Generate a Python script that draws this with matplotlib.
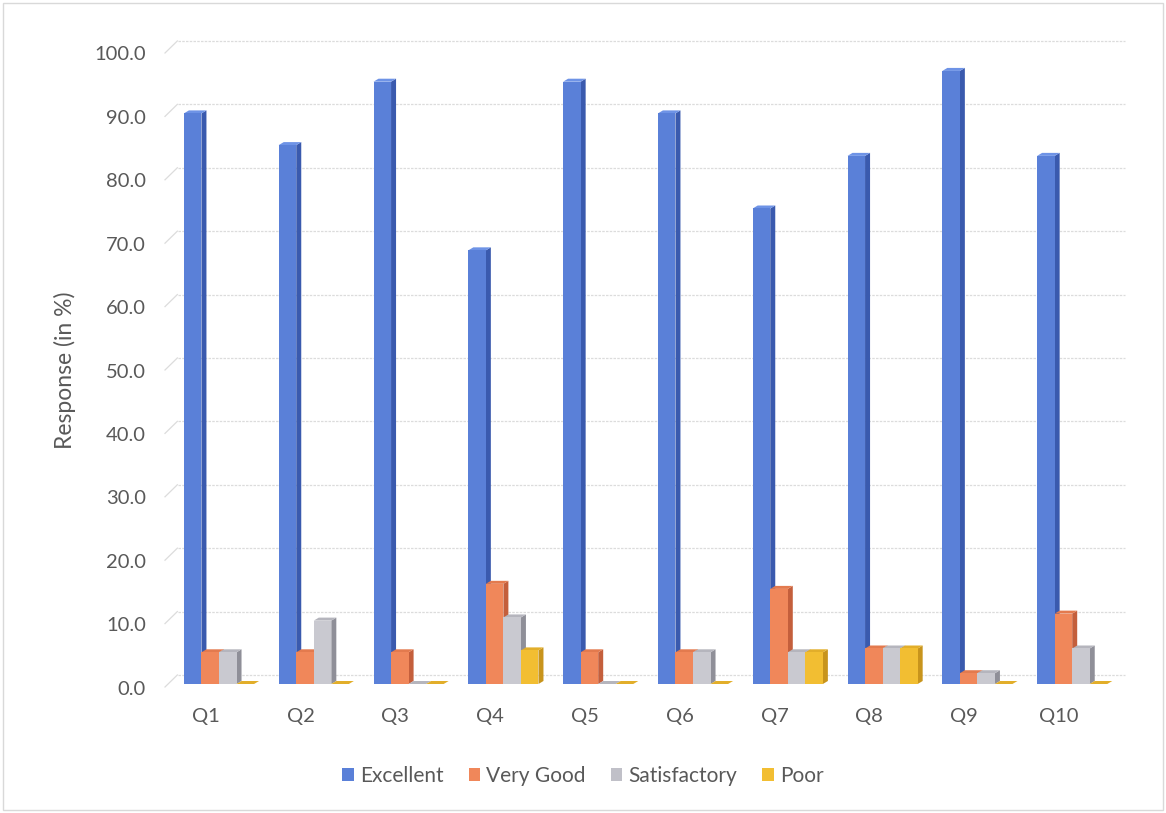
import matplotlib
matplotlib.use("Agg")
import matplotlib.pyplot as plt
import numpy as np
from matplotlib.patches import Polygon, Rectangle
from matplotlib.transforms import ScaledTranslation

categories = ["Q1", "Q2", "Q3", "Q4", "Q5", "Q6", "Q7", "Q8", "Q9", "Q10"]
excellent = [90.0, 85.0, 95.0, 68.4, 95.0, 90.0, 75.0, 83.3, 96.7, 83.3]
very_good = [5.0, 5.0, 5.0, 15.8, 5.0, 5.0, 15.0, 5.6, 1.7, 11.1]
satisfactory = [5.0, 10.0, 0.0, 10.5, 0.0, 5.0, 5.0, 5.6, 1.7, 5.6]
poor = [0.0, 0.0, 0.0, 5.3, 0.0, 0.0, 5.0, 5.6, 0.0, 0.0]
series_names = ["Excellent", "Very Good", "Satisfactory", "Poor"]
yticks = [0, 10, 20, 30, 40, 50, 60, 70, 80, 90, 100]

series = [excellent, very_good, satisfactory, poor]
front_cols = ["#5A80D8", "#F0875A", "#C9C9D0", "#F2BE32"]
side_cols = ["#3A5AAE", "#C45F3C", "#8F8F98", "#C8941C"]
top_cols = ["#6E93E6", "#E37A4E", "#B5B5BD", "#E2AE2A"]
legend_cols = ["#5A80D8", "#F0875A", "#C0C0C8", "#F2BE32"]

plt.rcParams['font.family'] = ['Lato', 'DejaVu Sans']
txt = "#595959"

W, H = 1166, 813
fig = plt.figure(figsize=(W / 100, H / 100), dpi=100)
fig.patch.set_facecolor("white")
fig.add_artist(Rectangle((3 / W, 3 / H), 1 - 6 / W, 1 - 6 / H, transform=fig.transFigure,
                         fill=False, edgecolor="#D9D9D9", lw=1.0))

L, R, B, T = 175, 1125, 684, 50
ax = fig.add_axes([L / W, 1 - B / H, (R - L) / W, (B - T) / H])
ax.set_xlim(-0.464, 9.557)
ax.set_ylim(0, 100)
for s in ax.spines.values():
    s.set_visible(False)

# back-wall gridlines (offset up) + left side wall slants
dy_grid = 9 / 100
for t in yticks:
    off = ScaledTranslation(0, dy_grid, fig.dpi_scale_trans)
    ax.plot([0.003, 1.0], [t, t], transform=ax.get_yaxis_transform() + off,
            color="#DCDCDC", lw=0.9, ls=(0, (2, 1)), zorder=0, clip_on=False)
    side = ScaledTranslation(-10 / 100, -3 / 100, fig.dpi_scale_trans)
    ax.plot([0.0, 0.013], [t, t + 1.9], transform=ax.get_yaxis_transform() + side,
            color="#DCDCDC", lw=0.9, zorder=0, clip_on=False)

# bars with faux 3D depth
x = np.arange(len(categories))
w = 0.185
inv = ax.transData.inverted()
p0 = inv.transform(ax.transData.transform((0, 0)))
p1 = inv.transform(ax.transData.transform((0, 0)) + np.array([5, 3]))
ddx, ddy = p1 - p0

for k, (vals, fc, sc, tc) in enumerate(zip(series, front_cols, side_cols, top_cols)):
    lefts = x - 2 * w + k * w
    for xl, v in zip(lefts, vals):
        side_poly = Polygon([(xl + w, 0), (xl + w + ddx, ddy), (xl + w + ddx, v + ddy), (xl + w, v)],
                            closed=True, facecolor=sc, edgecolor="none", zorder=2 + k)
        top_poly = Polygon([(xl, v), (xl + ddx, v + ddy), (xl + w + ddx, v + ddy), (xl + w, v)],
                           closed=True, facecolor=tc, edgecolor="none", zorder=2 + k)
        ax.add_patch(side_poly)
        ax.add_patch(top_poly)
    ax.bar(lefts, vals, width=w, align="edge", color=fc, edgecolor="none", zorder=2 + k,
           label=series_names[k])

ax.set_xticks(x - 0.14)
ax.set_xticklabels(categories)
ax.set_yticks(yticks)
ax.set_yticklabels([f"{t:.1f}" for t in yticks])
ax.tick_params(axis="y", length=0, pad=21, labelsize=14.5, labelcolor=txt)
ax.tick_params(axis="x", length=0, pad=17, labelsize=14.5, labelcolor=txt)
shift = ScaledTranslation(0, -5 / 100, fig.dpi_scale_trans)
for lab in ax.get_yticklabels():
    lab.set_verticalalignment("center")
    lab.set_transform(lab.get_transform() + shift)

fig.text(65 / W, 1 - 370 / H, "Response (in %)", rotation=90, ha="center", va="center",
         fontsize=16.5, color=txt)

handles = [Rectangle((0, 0), 1, 1, facecolor=c, edgecolor="none") for c in legend_cols]
leg = fig.legend(handles, series_names, loc="center", bbox_to_anchor=(583 / W, 1 - 776 / H),
                 ncol=4, frameon=False, fontsize=15, handlelength=0.55, handleheight=0.55,
                 handletextpad=0.3, columnspacing=1.2, labelcolor=txt)

fig.savefig("out.png", dpi=100)
